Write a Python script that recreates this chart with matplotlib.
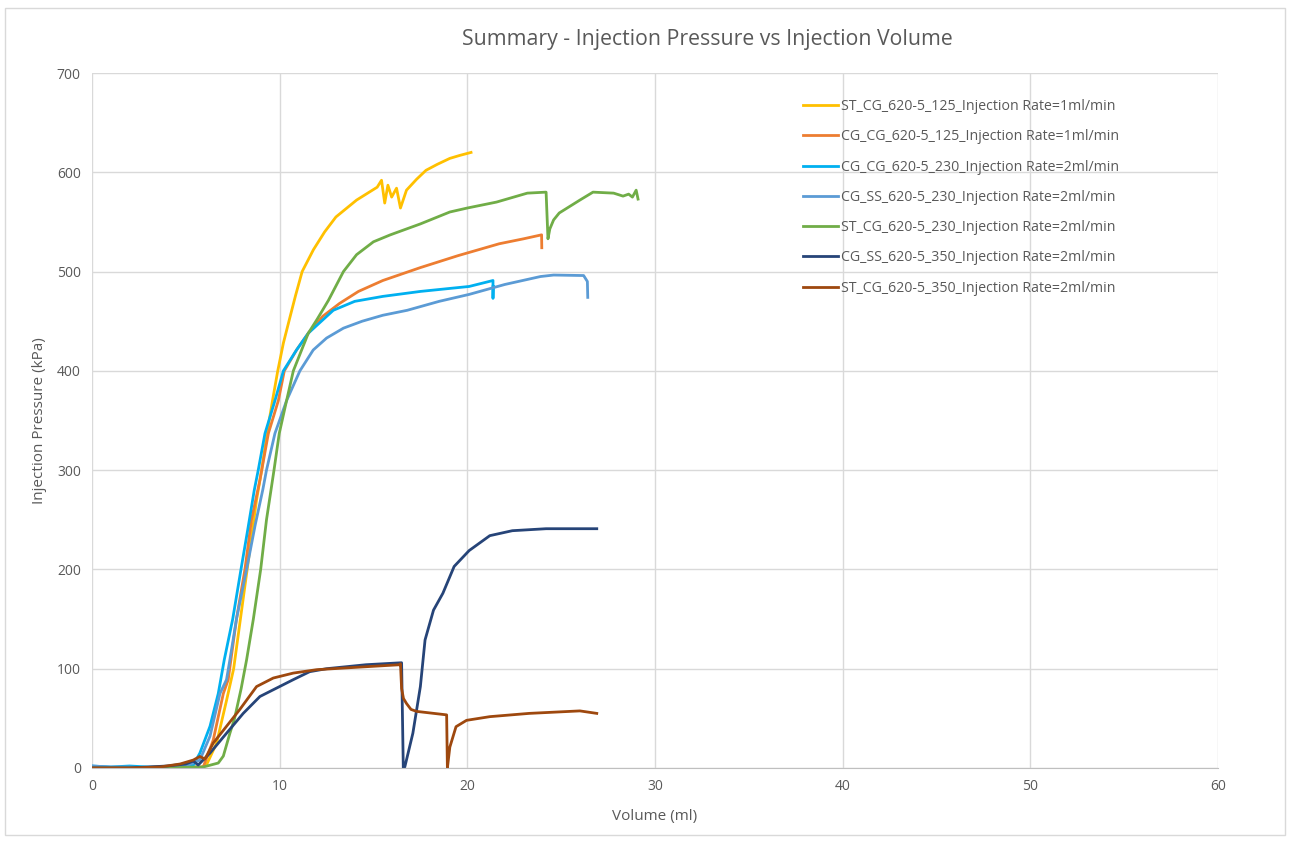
import matplotlib.pyplot as plt
from matplotlib.patches import Rectangle

plt.rcParams['font.family'] = ['Open Sans', 'DejaVu Sans']

# Injection volume (ml) / pressure (kPa) readings for each test
st_cg_125_x = [0, 2, 4, 5.0, 5.75, 6.1, 6.64, 7.17, 7.55, 8.27, 8.77, 9.04, 9.4, 9.62, 9.9,
               10.2, 10.55, 10.85, 11.2, 11.8, 12.4, 13.0, 14.1, 15.2, 15.43, 15.6, 15.77,
               15.97, 16.23, 16.44, 16.76, 17.3, 17.8, 18.4, 19.07, 19.6, 20.2]
st_cg_125_y = [0, 0, 1, 1, 0, 3, 25, 68, 100, 200, 270, 300, 345, 370, 400,
               428, 454, 476, 500, 522, 540, 555, 572, 585, 592, 569, 587,
               575, 584, 564, 582, 593, 602, 608, 614, 617, 620]

cg_cg_125_x = [0, 2, 4, 5.5, 5.93, 6.46, 7.0, 7.26, 7.7, 8.15, 8.5, 8.95, 9.4, 9.93, 10.25,
               10.9, 11.53, 12.3, 13.2, 14.2, 15.5, 17.5, 19.5, 21.7, 23.0, 23.96, 23.97]
cg_cg_125_y = [0, 0, 1, 1, 1, 28, 75, 89, 150, 200, 250, 290, 337, 370, 400,
               421, 438, 455, 468, 480, 491, 504, 516, 528, 533, 537, 524]

cg_cg_230_x = [0, 1, 2, 3, 4, 5, 5.4, 5.75, 6.29, 6.73, 7.05, 7.5, 7.94, 8.3, 8.65, 8.86,
               9.22, 9.75, 10.2, 10.9, 11.53, 12.86, 14.0, 15.5, 17.5, 20.1, 21.37, 21.37,
               21.38]
cg_cg_230_y = [2, 1, 2, 1, 1, 2, 3, 15, 42, 75, 109, 150, 200, 240, 280, 300,
               337, 370, 400, 421, 438, 461, 470, 475, 480, 485, 491, 473,
               485]

cg_ss_230_x = [0, 1, 2, 3, 4, 5, 5.75, 6.29, 6.82, 7.17, 7.35, 7.7, 8.24, 8.7, 9.1, 9.3,
               9.75, 10.37, 11.08, 11.79, 12.5, 13.4, 14.4, 15.5, 16.8, 18.5, 20.1, 22.0,
               23.9, 24.6, 26.2, 26.4, 26.42]
cg_ss_230_y = [2, 1, 1, 0, 1, 2, 8, 32, 75, 89, 109, 150, 200, 245, 280, 300,
               337, 370, 400, 421, 433, 443, 450, 456, 461, 470, 477, 487,
               495, 496.5, 496, 490, 474]

st_cg_230_x = [0, 2, 4, 5.5, 5.93, 6.73, 7.0, 7.35, 7.6, 7.95, 8.24, 8.6, 8.99, 9.3, 9.62,
               9.7, 9.98, 10.37, 10.73, 11.53, 12.0, 12.6, 13.4, 14.1, 15.0, 15.9, 17.5,
               19.07, 20.0, 21.56, 23.2, 24.2, 24.3, 24.4, 24.6, 24.9, 26.0, 26.7, 27.8,
               28.3, 28.6, 28.8, 29.0, 29.1]
st_cg_230_y = [0, 0, 0, 1, 1, 5, 12, 35, 50, 80, 109, 150, 200, 250, 290,
               300, 337, 370, 400, 438, 452, 471, 500, 517, 530, 537, 548,
               560, 564, 570, 579, 580, 533, 543, 552, 559, 572, 580, 579,
               576, 578, 575, 582, 573]

cg_ss_350_x = [0, 2, 4, 5.0, 5.4, 5.66, 6.29, 7.17, 8.06, 8.95, 9.84, 10.73, 11.6, 12.5,
               14.6, 16.5, 16.59, 16.67, 17.1, 17.5, 17.75, 18.2, 18.7, 19.3, 20.1, 21.2,
               22.4, 24.2, 26.9]
cg_ss_350_y = [0, 0, 2, 4, 7, 3, 15, 35, 55, 72, 80.5, 89, 97, 100,
               104, 106, 0, 1, 35, 82, 129, 159, 176, 203, 219, 234,
               239, 241, 241]

st_cg_350_x = [0, 2, 3.62, 4.69, 5.4, 5.75, 6.02, 6.46, 7.17, 7.88, 8.77, 9.66, 10.73, 11.97,
               14.6, 16.4, 16.44, 16.5, 16.6, 16.76, 17.0, 17.3, 18.9, 18.94, 19.07, 19.4,
               19.96, 21.2, 23.3, 26.0, 26.9]
st_cg_350_y = [0, 0, 1, 4, 8, 11.6, 9, 25, 42, 59, 82, 90.6, 95.6, 99,
               102, 104, 105, 80, 70, 65, 59, 57, 53.5, 0, 21, 41.6,
               48, 51.7, 55, 57.5, 55]

series = [
    ('ST_CG_620-5_125_Injection Rate=1ml/min', st_cg_125_x, st_cg_125_y, '#FFC000'),
    ('CG_CG_620-5_125_Injection Rate=1ml/min', cg_cg_125_x, cg_cg_125_y, '#ED7D31'),
    ('CG_CG_620-5_230_Injection Rate=2ml/min', cg_cg_230_x, cg_cg_230_y, '#00B0F0'),
    ('CG_SS_620-5_230_Injection Rate=2ml/min', cg_ss_230_x, cg_ss_230_y, '#5B9BD5'),
    ('ST_CG_620-5_230_Injection Rate=2ml/min', st_cg_230_x, st_cg_230_y, '#70AD47'),
    ('CG_SS_620-5_350_Injection Rate=2ml/min', cg_ss_350_x, cg_ss_350_y, '#264478'),
    ('ST_CG_620-5_350_Injection Rate=2ml/min', st_cg_350_x, st_cg_350_y, '#9E480E'),
]

grey = '#595959'

fig = plt.figure(figsize=(12.9, 8.42), dpi=100)
ax = fig.add_axes([0.0713, 0.0879, 0.8728, 0.8254])

for label, x, y, c in series:
    ax.plot(x, y, color=c, lw=2.0, label=label)

ax.set_xlim(0, 60)
ax.set_ylim(0, 700)
ax.set_xticks(range(0, 61, 10))
ax.set_yticks(range(0, 701, 100))
ax.grid(True, color='#D9D9D9', lw=1.0)
ax.set_axisbelow(True)
for s in ['top', 'right', 'left']:
    ax.spines[s].set_visible(False)
ax.spines['bottom'].set_color('#BFBFBF')
ax.tick_params(length=0, labelsize=10, colors=grey, pad=8)

ax.set_xlabel('Volume (ml)', fontsize=11, color=grey, labelpad=11)
ax.set_ylabel('Injection Pressure (kPa)', fontsize=11, color=grey, labelpad=7)
fig.text(0.548, 0.953, 'Summary - Injection Pressure vs Injection Volume',
         ha='center', va='center', fontsize=15.3, color=grey)

leg = ax.legend(loc='upper left', bbox_to_anchor=(0.62, 0.981), frameon=False,
                fontsize=10.2, labelspacing=1.08, handlelength=2.47, handletextpad=0.2,
                labelcolor=grey)

fig.patches.append(Rectangle((0.004, 0.008), 0.992, 0.983, transform=fig.transFigure,
                             fill=False, edgecolor='#D9D9D9', lw=1.0))

fig.savefig('out.png', dpi=100)
